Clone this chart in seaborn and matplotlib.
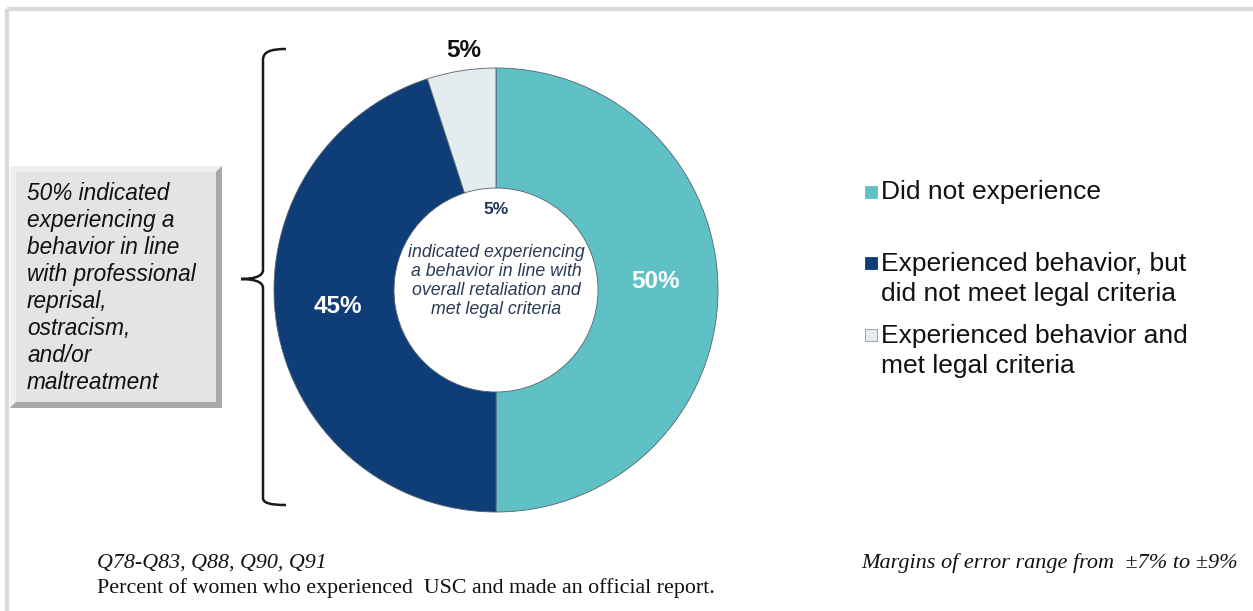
import numpy as np
import matplotlib
matplotlib.use("Agg")
import matplotlib.pyplot as plt
from matplotlib.patches import Rectangle, Polygon, PathPatch
from matplotlib.path import Path
import seaborn as sns

# chart data
categories = ["Did not experience",
              "Experienced behavior, but\ndid not meet legal criteria",
              "Experienced behavior and\nmet legal criteria"]
values = [50, 45, 5]
colors = ["#5FC1C6", "#0F3D78", "#E4ECEF"]
box_text = ("50% indicated\nexperiencing a\nbehavior in line\nwith professional\n"
            "reprisal,\nostracism,\nand/or\nmaltreatment")
center_note = ("indicated experiencing\na behavior in line with\n"
               "overall retaliation and\nmet legal criteria")
source_note = "Q78-Q83, Q88, Q90, Q91"
base_note = "Percent of women who experienced  USC and made an official report."
moe_note = "Margins of error range from  \u00b17% to \u00b19%"

sns.set_style("white")
plt.rcParams['font.family'] = ['Liberation Sans', 'DejaVu Sans']

W, H = 1253, 611
fig = plt.figure(figsize=(W / 100, H / 100), dpi=100)
ax = fig.add_axes([0, 0, 1, 1])


def Y(y):
    # pixel row (from top) -> data y
    return H - y


cx, cy, R, r_in = 496, Y(290), 222, 102

wedges, texts, pcts = ax.pie(values, colors=colors, startangle=90, counterclock=False,
                             radius=R, center=(cx, cy),
                             autopct=lambda p: f"{p:.0f}%", pctdistance=0.72,
                             wedgeprops=dict(width=R - r_in, edgecolor="#52656d", linewidth=0.6),
                             textprops=dict(fontsize=17.5, fontweight="bold", color="white"))
pcts[2].set_color("#111111")
th = np.deg2rad((wedges[2].theta1 + wedges[2].theta2) / 2)
pcts[2].set_position((cx + 1.09 * R * np.cos(th) + 6, cy + 1.09 * R * np.sin(th)))
# nudge the two ring labels slightly upward, as in the original layout
for t in pcts[:2]:
    x, y = t.get_position()
    t.set_position((x, y + 9))

ax.set_xlim(0, W)
ax.set_ylim(0, H)
ax.set_aspect("equal")
ax.axis("off")

# center annotation
ax.text(cx, Y(209), f"{values[2]}%", ha="center", va="center", fontsize=12.5,
        fontweight="bold", color="#1F3558")
ax.text(cx, Y(281), center_note, ha="center", va="center", fontsize=12.8,
        style="italic", color="#2A3B55", linespacing=1.13)

# frame lines
ax.plot([7, W], [Y(9), Y(9)], color="#D9D9D9", lw=3, solid_capstyle="butt")
ax.plot([7, 7], [Y(9), 0], color="#D9D9D9", lw=3, solid_capstyle="butt")

# beveled gray box
bx0, by0, bx1, by1, b = 10, 166, 222, 408, 6
ax.add_patch(Rectangle((bx0, Y(by1)), bx1 - bx0, by1 - by0, facecolor="#BDBDBD", edgecolor="none"))
ax.add_patch(Polygon([(bx0, Y(by0)), (bx1, Y(by0)), (bx1 - b, Y(by0 + b)), (bx0 + b, Y(by0 + b)),
                      (bx0 + b, Y(by1 - b)), (bx0, Y(by1))], closed=True,
                     facecolor="#F0F0F0", edgecolor="none"))
ax.add_patch(Polygon([(bx1, Y(by0)), (bx1, Y(by1)), (bx0, Y(by1)), (bx0 + b, Y(by1 - b)),
                      (bx1 - b, Y(by1 - b)), (bx1 - b, Y(by0 + b))], closed=True,
                     facecolor="#A8A8A8", edgecolor="none"))
ax.add_patch(Rectangle((bx0 + b, Y(by1 - b)), bx1 - bx0 - 2 * b, by1 - by0 - 2 * b,
                       facecolor="#E4E4E4", edgecolor="none"))
ax.text(27, Y(288), box_text, ha="left", va="center", fontsize=16.3, style="italic",
        color="#111111", linespacing=1.23)

# curly brace
verts = [(286, 49), (270, 49), (263, 52), (263, 60),
         (263, 270),
         (263, 277), (252, 279), (241, 279),
         (252, 279), (263, 281), (263, 288),
         (263, 498),
         (263, 503), (270, 505), (286, 505)]
codes = [Path.MOVETO, Path.CURVE4, Path.CURVE4, Path.CURVE4,
         Path.LINETO,
         Path.CURVE4, Path.CURVE4, Path.CURVE4,
         Path.CURVE4, Path.CURVE4, Path.CURVE4,
         Path.LINETO,
         Path.CURVE4, Path.CURVE4, Path.CURVE4]
ax.add_patch(PathPatch(Path([(x, Y(y)) for x, y in verts], codes),
                       facecolor="none", edgecolor="#1a1a1a", lw=1.8))

# legend
leg_rows = [192, 263, 335]
for cat, col, yy in zip(categories, colors, leg_rows):
    ax.add_patch(Rectangle((865, Y(yy + 6)), 12, 12, facecolor=col,
                           edgecolor="#8a9aa0" if col == colors[2] else col, lw=0.6))
    n = cat.count("\n")
    ax.text(881, Y(yy + n * 16), cat, ha="left", va="center",
            fontsize=19, color="#111111", linespacing=1.34)

# footer notes
serif = ['Liberation Serif', 'DejaVu Serif']
ax.text(97, Y(563), source_note, ha="left", va="center", fontsize=15.8, style="italic",
        family=serif, color="#111111")
ax.text(97, Y(588), base_note, ha="left", va="center", fontsize=15.8, family=serif, color="#111111")
ax.text(1238, Y(563), moe_note, ha="right", va="center", fontsize=16, style="italic",
        family=serif, color="#111111")

fig.savefig("out.png", dpi=100)
